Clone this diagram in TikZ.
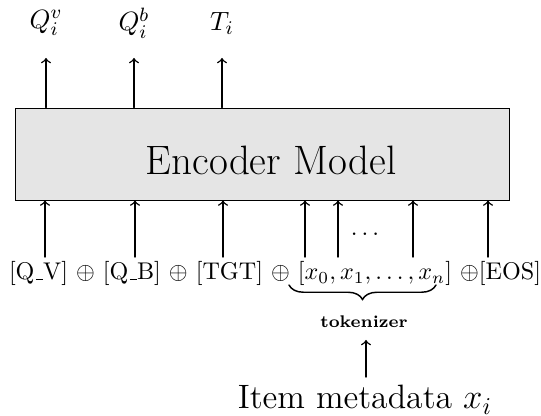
\documentclass[tikz,border=0pt]{standalone}
\usetikzlibrary{decorations.pathreplacing}
\newcommand\usc{\leavevmode\kern.06em\vbox{\hrule width.3em}}
\begin{document}
\begin{tikzpicture}[x=0.414pt, y=-0.414pt, >=to, line cap=round,
	arr/.style={->, semithick}]
	\useasboundingbox (0,0) rectangle (541,416);
	\node[draw, fill=black!10, minimum width=204.9pt, minimum height=38.1pt, inner sep=0pt] (enc) at (262.5,154) {};
	\node[font=\fontsize{17}{20}\selectfont, anchor=base] (enclab) at (271,175) {Encoder Model};
	% outputs
	\foreach \x/\lab/\nm in {46/Q_i^v/qv, 134/Q_i^b/qb, 222/T_i/ti} {
		\node[font=\fontsize{11}{13}\selectfont] (out\nm) at (\x,23) {$\lab$};
		\coordinate (tip\nm) at (\x,58);
		\draw[arr] (enc.north -| tip\nm) -- (tip\nm);
	}
	% inputs
	\node[anchor=base] (row) at (275,280) {[Q\usc V] $\oplus$ [Q\usc B] $\oplus$ [TGT] $\oplus$ $[x_0, x_1, \ldots, x_n]$ $\oplus$[EOS]};
	\foreach \x [count=\i] in {45,135,223,305,338,413,488} {
		\coordinate (in\i) at (\x,257);
		\draw[arr] (in\i) -- (in\i |- enc.south);
	}
	\node[anchor=base] (dots) at (365,236) {$\ldots$};
	\draw[decorate, decoration={brace, mirror, amplitude=6pt}, semithick] (289,285) -- (436,285);
	\node[font=\scriptsize\bfseries] (tok) at (364,322) {tokenizer};
	\node[font=\fontsize{14}{17}\selectfont, anchor=base] (meta) at (365,409) {Item metadata $x_i$};
	\coordinate (tokin) at (366,340);
	\draw[arr] (meta.north -| tokin) -- (tokin);
\end{tikzpicture}
\end{document}
